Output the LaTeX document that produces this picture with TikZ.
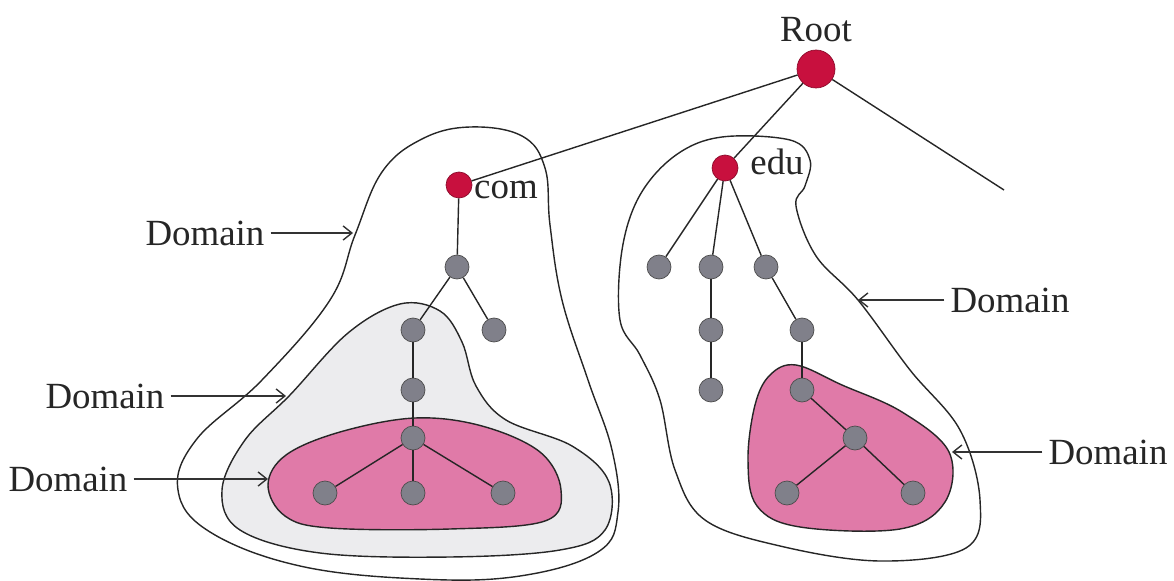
\documentclass[tikz,border=0pt]{standalone}
\usepackage{fontspec}
\setmainfont{Liberation Serif}
\usetikzlibrary{arrows.meta}

\definecolor{rootred}{RGB}{200,16,62}
\definecolor{hostgray}{RGB}{128,128,138}
\definecolor{zonepink}{RGB}{224,122,168}
\definecolor{zonegray}{RGB}{236,236,238}

\begin{document}
\begin{tikzpicture}[
        x=0.02cm, y=-0.02cm,
        % uniform styles for the tree
        toplevel/.style={
            circle,
            draw=rootred!70!black,
            fill=rootred,
            minimum size=0.52cm,
            inner sep=0pt
        },
        host/.style={
            circle,
            draw=black!70,
            fill=hostgray,
            minimum size=0.48cm,
            inner sep=0pt
        },
        link/.style={
            thick,
            black!85
        },
        zone/.style={
            thick,
            black!85
        },
        pointer/.style={
            -{Straight Barb[length=5pt,width=8pt]},
            thick,
            black!80
        },
        tag/.style={
            font=\fontsize{21}{25}\selectfont,
            text=black!85
        }
    ]
    \useasboundingbox (0,0) rectangle (1174,581);

    % Draw the domains
    \draw [zone] plot [smooth cycle, tension=0.65] coordinates {
        (470,127) (522,136) (545,168) (550,225) (562,300) (588,380)
        (612,450) (618,512) (598,552) (520,576) (420,579) (300,566)
        (210,532) (178,490) (196,440) (262,380) (330,300) (355,235)
        (382,172) (422,139)};
    \draw [zone, fill=zonegray] plot [smooth cycle, tension=0.6] coordinates {
        (400,304) (440,311) (462,342) (476,386) (506,420) (572,446)
        (609,482) (605,530) (560,550) (450,557) (320,553) (240,530)
        (222,490) (245,440) (290,395) (348,333)};
    \draw [zone, fill=zonepink] plot [smooth cycle, tension=0.6] coordinates {
        (415,418) (482,426) (540,452) (561,490) (545,521) (450,529)
        (330,528) (285,516) (268,485) (286,455) (340,432)};
    \draw [zone] plot [smooth cycle, tension=0.6] coordinates {
        (722,137) (790,140) (810,160) (805,186) (796,206) (816,256)
        (858,300) (910,370) (960,430) (980,500) (966,548) (880,561)
        (780,546) (705,520) (675,470) (660,400) (640,355) (620,320)
        (622,250) (640,195) (676,155)};
    \draw [zone, fill=zonepink] plot [smooth cycle, tension=0.6] coordinates {
        (796,365) (842,385) (902,412) (949,452) (945,502) (900,529)
        (800,527) (757,506) (748,460) (755,405) (770,375)};

    % Draw the Nodes
    \node (root) [toplevel, minimum size=0.76cm] at (816,69) {};
    \node (com)  [toplevel] at (459,185) {};
    \node (edu)  [toplevel] at (725,168) {};
    \coordinate (other) at (1004,190);

    \node (c1)  [host] at (457,267) {};
    \node (c2)  [host] at (413,330) {};
    \node (c3)  [host] at (494,330) {};
    \node (c4)  [host] at (413,390) {};
    \node (c5)  [host] at (413,438) {};
    \node (c6)  [host] at (325,493) {};
    \node (c7)  [host] at (413,493) {};
    \node (c8)  [host] at (503,493) {};

    \node (e1)  [host] at (659,267) {};
    \node (e2)  [host] at (711,267) {};
    \node (e3)  [host] at (766,267) {};
    \node (e4)  [host] at (711,330) {};
    \node (e5)  [host] at (711,390) {};
    \node (e6)  [host] at (802,330) {};
    \node (e7)  [host] at (802,390) {};
    \node (e8)  [host] at (855,438) {};
    \node (e9)  [host] at (787,493) {};
    \node (e10) [host] at (913,493) {};

    % Draw the labels
    \node (roottag) [tag] at (816,30) {Root};
    \node (comtag)  [tag] at (506,190) {com};
    \node (edutag)  [tag] at (777,162) {edu};

    \node (d1) [tag] at (205,233) {Domain};
    \node (d2) [tag] at (105,396) {Domain};
    \node (d3) [tag] at (68,479) {Domain};
    \node (d4) [tag] at (1010,300) {Domain};
    \node (d5) [tag] at (1108,452) {Domain};

    \coordinate (h1) at (353,233);
    \coordinate (h2) at (286,396);
    \coordinate (h3) at (268,479);
    \coordinate (h4) at (858,300);
    \coordinate (h5) at (952,452);

    % Draw the connecting lines
    \draw [link] (root) -- (com);
    \draw [link] (root) -- (edu);
    \draw [link] (root) -- (other);

    \draw [link] (com) -- (c1);
    \draw [link] (c1) -- (c2);
    \draw [link] (c1) -- (c3);
    \draw [link] (c2) -- (c4);
    \draw [link] (c4) -- (c5);
    \draw [link] (c5) -- (c6);
    \draw [link] (c5) -- (c7);
    \draw [link] (c5) -- (c8);

    \draw [link] (edu) -- (e1);
    \draw [link] (edu) -- (e2);
    \draw [link] (edu) -- (e3);
    \draw [link] (e2) -- (e4);
    \draw [link] (e4) -- (e5);
    \draw [link] (e3) -- (e6);
    \draw [link] (e6) -- (e7);
    \draw [link] (e7) -- (e8);
    \draw [link] (e8) -- (e9);
    \draw [link] (e8) -- (e10);

    % Draw the pointers
    \draw [pointer] (d1.east) -- (h1);
    \draw [pointer] (d2.east) -- (h2);
    \draw [pointer] (d3.east) -- (h3);
    \draw [pointer] (d4.west) -- (h4);
    \draw [pointer] (d5.west) -- (h5);

    \end{tikzpicture}
\end{document}
